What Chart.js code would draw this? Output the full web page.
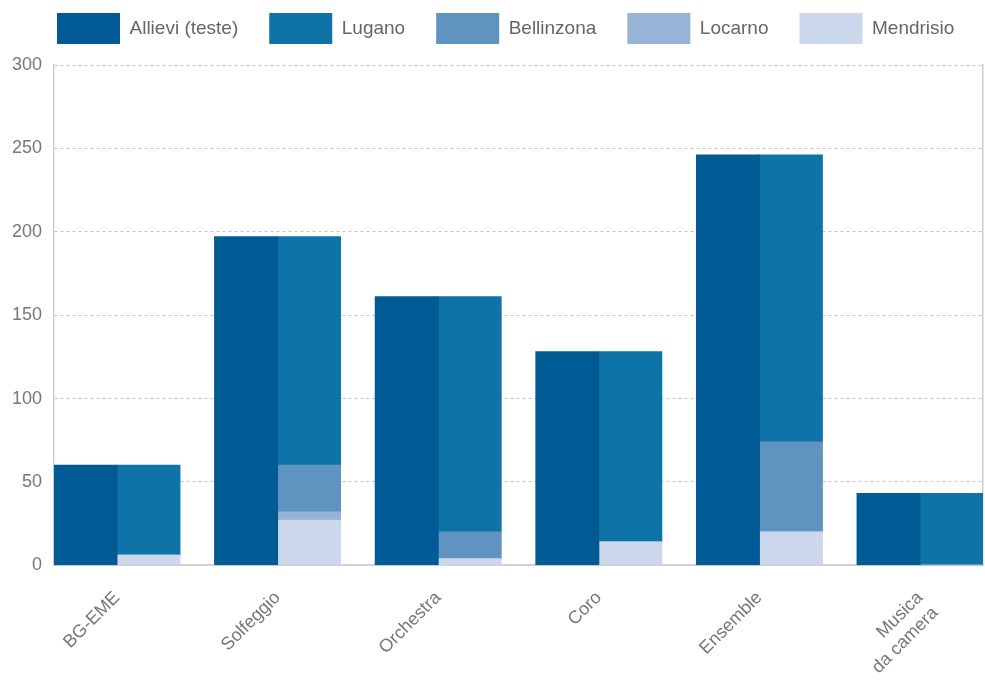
<!DOCTYPE html>
<html>
<head>
<meta charset="utf-8">
<title>Allievi per corso e sede</title>
<script src="https://cdn.jsdelivr.net/npm/chart.js@4.4.1/dist/chart.umd.min.js"></script>
<style>
  html, body { margin: 0; padding: 0; background: #fff; }
  #wrap { width: 985px; height: 681px; }
</style>
</head>
<body>
<div id="wrap"><canvas id="chart"></canvas></div>
<script>
// corsi sull'asse x
const categories = ['BG-EME', 'Solfeggio', 'Orchestra', 'Coro', 'Ensemble', ['Musica', 'da camera']];

// totale allievi (teste) per corso
const allievi = [60, 197, 161, 128, 246, 43];

// ripartizione per sede
const lugano = [54, 137, 141, 114, 172, 43];
const bellinzona = [0, 28, 16, 0, 54, 0];
const locarno = [0, 5, 0, 0, 0, 0];
const mendrisio = [6, 27, 4, 14, 20, 0];

const yMax = 300;
const yStep = 50;

const colors = {
  allievi: '#005a94',
  lugano: '#0e74a8',
  bellinzona: '#5f93c0',
  locarno: '#97b3d5',
  mendrisio: '#cbd7ea'
};

// mezzo gruppo di barre oltre il primo e l'ultimo corso
const edge = 0.392;

function toPoints(values) {
  return values.map((v, i) => ({ x: i, y: v }));
}

function bar(label, values, color, stack) {
  return {
    label: label,
    data: toPoints(values),
    backgroundColor: color,
    borderWidth: 0,
    inflateAmount: 0.5,
    stack: stack,
    categoryPercentage: 0.784,
    barPercentage: 1
  };
}

// le sedi si impilano dal basso: Mendrisio, Locarno, Bellinzona, Lugano
const datasets = [
  bar('Allievi (teste)', allievi, colors.allievi, 'teste'),
  bar('Mendrisio', mendrisio, colors.mendrisio, 'sedi'),
  bar('Locarno', locarno, colors.locarno, 'sedi'),
  bar('Bellinzona', bellinzona, colors.bellinzona, 'sedi'),
  bar('Lugano', lugano, colors.lugano, 'sedi')
];
// ordine in legenda: Allievi, Lugano, Bellinzona, Locarno, Mendrisio
const legendRank = [0, 4, 3, 2, 1];

const legendPadding = 31;

// legenda: più spazio sotto, riga allineata al bordo sinistro del grafico
const legendLayout = {
  id: 'legendLayout',
  afterInit(chart) {
    const fit = chart.legend.fit;
    chart.legend.fit = function () {
      fit.call(this);
      this.height += 11;
    };
  },
  afterLayout(chart) {
    chart.legend.left = chart.chartArea.left + 3 - legendPadding;
    chart.legend.right = chart.width + legendPadding;
  }
};

Chart.defaults.font.family = '"Liberation Sans", Arial, Helvetica, sans-serif';

new Chart(document.getElementById('chart'), {
  type: 'bar',
  data: { datasets: datasets },
  options: {
    responsive: true,
    maintainAspectRatio: false,
    animation: false,
    layout: { padding: { top: -18, left: 8, right: 2, bottom: -19 } },
    plugins: {
      tooltip: { enabled: false },
      legend: {
        position: 'top',
        align: 'start',
        labels: {
          boxWidth: 63,
          boxHeight: 31,
          padding: legendPadding,
          color: '#666',
          font: { size: 19 },
          sort: (a, b) => legendRank[a.datasetIndex] - legendRank[b.datasetIndex]
        }
      }
    },
    scales: {
      x: {
        type: 'linear',
        min: -edge,
        max: categories.length - 1 + edge,
        bounds: 'data',
        offset: false,
        grid: { display: false, drawTicks: false, offset: false },
        border: { display: true, color: '#d2d2d2', width: 2 },
        afterBuildTicks: (scale) => {
          scale.ticks = categories.map((_, i) => ({ value: i }));
        },
        ticks: {
          autoSkip: false,
          minRotation: 45,
          maxRotation: 45,
          padding: 22,
          color: '#777',
          font: { size: 18 },
          callback: (value) => categories[value]
        }
      },
      y: {
        stacked: true,
        min: 0,
        max: yMax,
        afterFit: (scale) => { scale.width = 46; },
        grid: { color: '#c6c6c6', lineWidth: 1, drawTicks: false },
        border: { display: true, color: '#cdcdcd', width: 1.5, dash: [3, 3] },
        ticks: {
          stepSize: yStep,
          padding: 12,
          color: '#777',
          font: { size: 18 }
        }
      },
      yRight: {
        position: 'right',
        min: 0,
        max: yMax,
        afterFit: (scale) => { scale.width = 0; },
        grid: { display: false, drawTicks: false },
        border: { display: true, color: '#cdcdcd', width: 1.5 },
        ticks: { display: false }
      }
    }
  },
  plugins: [legendLayout]
});
</script>
</body>
</html>
